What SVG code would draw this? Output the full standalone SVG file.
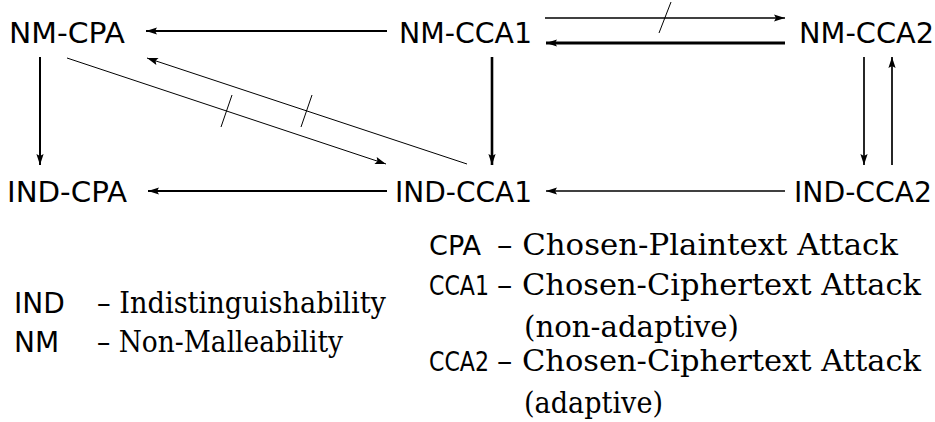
<svg xmlns="http://www.w3.org/2000/svg" width="935" height="422" viewBox="0 0 935 422">
<style>
.node{font-family:"DejaVu Sans","Liberation Sans",sans-serif;font-size:29px;fill:#000}
.abbr{font-family:"DejaVu Sans","Liberation Sans",sans-serif;font-size:28px;fill:#000}
.abbr2{font-family:"DejaVu Sans","Liberation Sans",sans-serif;font-size:27px;fill:#000}
.desc{font-family:"DejaVu Serif","Liberation Serif",serif;font-size:29px;fill:#000}
.e{stroke:#000;fill:none;marker-end:url(#ah)}
.tick{stroke:#000;stroke-width:1;fill:none}
</style>
<defs>
<marker id="ah" markerUnits="userSpaceOnUse" markerWidth="14" markerHeight="10" viewBox="-12 -5 14 10" refX="0" refY="0" orient="auto">
<path d="M0,0 L-11,-3.6 L-9,0 L-11,3.6 Z" fill="#000"/>
</marker>
</defs>
<g id="nodes">
<g id="NM-CPA"><text class="node" x="9" y="43" textLength="116" lengthAdjust="spacingAndGlyphs">NM-CPA</text></g>
<g id="NM-CCA1"><text class="node" x="399" y="43" textLength="133" lengthAdjust="spacingAndGlyphs">NM-CCA1</text></g>
<g id="NM-CCA2"><text class="node" x="799" y="43" textLength="135" lengthAdjust="spacingAndGlyphs">NM-CCA2</text></g>
<g id="IND-CPA"><text class="node" x="7" y="202" textLength="120" lengthAdjust="spacingAndGlyphs">IND-CPA</text></g>
<g id="IND-CCA1"><text class="node" x="395" y="202" textLength="137" lengthAdjust="spacingAndGlyphs">IND-CCA1</text></g>
<g id="IND-CCA2"><text class="node" x="794" y="202" textLength="138" lengthAdjust="spacingAndGlyphs">IND-CCA2</text></g>
</g>
<g id="connectors">
<line class="e" x1="387" y1="31" x2="146" y2="31" stroke-width="2"/>
<line class="e" x1="40" y1="57" x2="40" y2="165" stroke-width="2"/>
<line class="e" x1="387" y1="191" x2="148" y2="191" stroke-width="2"/>
<line class="e" x1="67" y1="58" x2="386" y2="164" stroke-width="1"/>
<line class="e" x1="467" y1="164" x2="147" y2="58" stroke-width="1"/>
<line class="tick" x1="221" y1="127" x2="232" y2="95"/>
<line class="tick" x1="301" y1="127" x2="312" y2="95"/>
<line class="e" x1="545" y1="18" x2="785" y2="18" stroke-width="1.4"/>
<line class="tick" x1="659" y1="33" x2="671" y2="2"/>
<line class="e" x1="785" y1="43" x2="546" y2="43" stroke-width="3"/>
<line class="e" x1="492" y1="57" x2="492" y2="165" stroke-width="2.6"/>
<line class="e" x1="864" y1="57" x2="864" y2="165" stroke-width="1.7"/>
<line class="e" x1="892" y1="165" x2="892" y2="57" stroke-width="1.7"/>
<line class="e" x1="785" y1="191" x2="546" y2="191" stroke-width="1.7"/>
</g>
<g id="legend">
<text class="abbr" x="14" y="313">IND</text>
<text class="desc" x="97" y="313" textLength="289" lengthAdjust="spacingAndGlyphs">– Indistinguishability</text>
<text class="abbr" x="14" y="352">NM</text>
<text class="desc" x="97" y="352" textLength="246" lengthAdjust="spacingAndGlyphs">– Non-Malleability</text>
<text class="abbr2" x="429" y="255" textLength="52" lengthAdjust="spacingAndGlyphs">CPA</text>
<text class="desc" x="497" y="255" textLength="401" lengthAdjust="spacingAndGlyphs">– Chosen-Plaintext Attack</text>
<text class="abbr2" x="429" y="295" textLength="60" lengthAdjust="spacingAndGlyphs">CCA1</text>
<text class="desc" x="497" y="295" textLength="424" lengthAdjust="spacingAndGlyphs">– Chosen-Ciphertext Attack</text>
<text class="desc" x="524" y="337" textLength="215" lengthAdjust="spacingAndGlyphs">(non-adaptive)</text>
<text class="abbr2" x="429" y="371" textLength="60" lengthAdjust="spacingAndGlyphs">CCA2</text>
<text class="desc" x="497" y="371" textLength="424" lengthAdjust="spacingAndGlyphs">– Chosen-Ciphertext Attack</text>
<text class="desc" x="524" y="413" textLength="139" lengthAdjust="spacingAndGlyphs">(adaptive)</text>
</g>
</svg>
